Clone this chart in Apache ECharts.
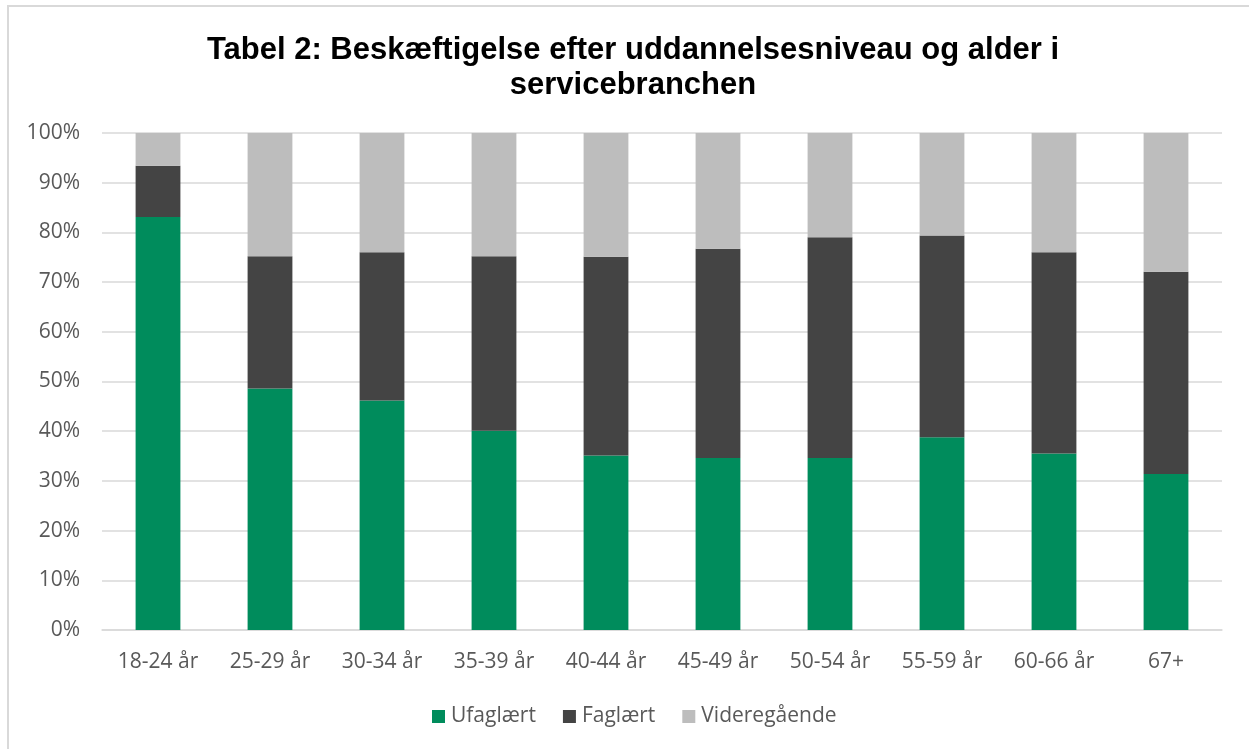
<!DOCTYPE html>
<html>
<head>
<meta charset="utf-8">
<script src="https://cdn.jsdelivr.net/npm/echarts@6/dist/echarts.min.js"></script>
<style>
html,body{margin:0;padding:0;background:#fff;}
#chart{width:1249px;height:749px;}
</style>
</head>
<body>
<div id="chart"></div>
<script>
const categories = ['18-24 år','25-29 år','30-34 år','35-39 år','40-44 år','45-49 år','50-54 år','55-59 år','60-66 år','67+'];
const ufaglaert = [83.1, 48.6, 46.2, 40.1, 35.1, 34.6, 34.6, 38.8, 35.5, 31.4];
const faglaert = [10.3, 26.6, 29.8, 35.1, 40.0, 42.1, 44.4, 40.6, 40.5, 40.7];
const videregaaende = [6.6, 24.8, 24.0, 24.8, 24.9, 23.3, 21.0, 20.6, 24.0, 27.9];
const yTicks = [0,10,20,30,40,50,60,70,80,90,100];

const chart = echarts.init(document.getElementById('chart'), null, {renderer:'canvas'});
const labelFont = '"Open Sans", "Noto Sans", sans-serif';
chart.setOption({
  animation:false,
  backgroundColor:'#ffffff',
  graphic:[{type:'rect', shape:{x:8, y:6, width:1300, height:800}, style:{fill:'none', stroke:'#d9d9d9', lineWidth:2}, silent:true}],
  title:{
    text:'Tabel 2: Beskæftigelse efter uddannelsesniveau og alder i\nservicebranchen',
    left:628, top:28, textAlign:'center',
    textStyle:{fontFamily:'"Liberation Sans", Arial, sans-serif', fontWeight:'bold', fontSize:31, color:'#000', lineHeight:35, align:'center'}
  },
  legend:{
    bottom:17, left:427, itemWidth:13, itemHeight:13, itemGap:27,
    icon:'rect',
    textStyle:{fontFamily:labelFont, fontSize:21, color:'#595959', padding:[0,0,0,1]},
    data:['Ufaglært','Faglært','Videregående']
  },
  grid:{left:102, right:27, top:133, bottom:119, containLabel:false},
  xAxis:{
    type:'category', data:categories,
    axisLine:{show:true, lineStyle:{color:'#d9d9d9', width:1.5}},
    axisTick:{show:false},
    axisLabel:{fontFamily:labelFont, fontSize:21, color:'#595959', margin:22}
  },
  yAxis:{
    type:'value', min:0, max:100, interval:10,
    axisLine:{show:false}, axisTick:{show:false},
    splitLine:{lineStyle:{color:'#d9d9d9', width:1.5}},
    axisLabel:{fontFamily:labelFont, fontSize:21, color:'#595959', margin:22,
      formatter:function(v){ return yTicks.indexOf(v)>=0 ? v+'%' : ''; }}
  },
  series:[
    {name:'Ufaglært', type:'bar', stack:'s', data:ufaglaert, barWidth:'40%', itemStyle:{color:'#008c5c'}},
    {name:'Faglært', type:'bar', stack:'s', data:faglaert, barWidth:'40%', itemStyle:{color:'#444444'}},
    {name:'Videregående', type:'bar', stack:'s', data:videregaaende, barWidth:'40%', itemStyle:{color:'#bdbdbd'}}
  ]
});
</script>
</body>
</html>
